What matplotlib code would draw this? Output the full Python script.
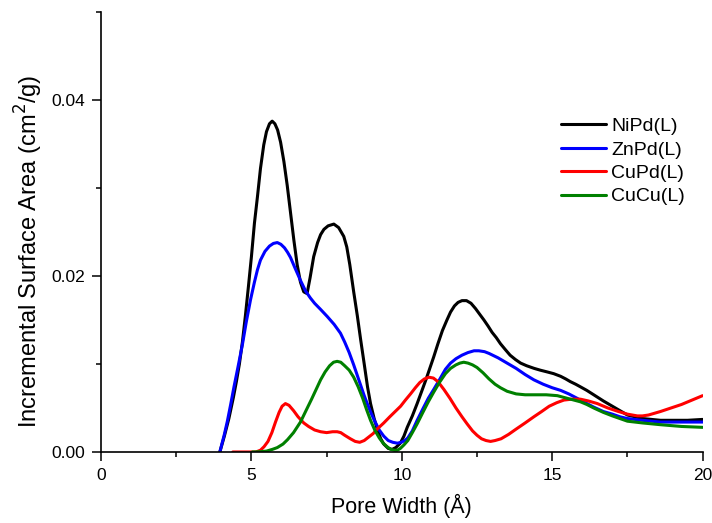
import matplotlib
matplotlib.use("Agg")
import matplotlib.pyplot as plt
from matplotlib.ticker import MultipleLocator

plt.rcParams['font.family'] = ['Liberation Sans', 'DejaVu Sans']

# NiPd(L)
nipd_x = [3.95, 4.1, 4.25, 4.4, 4.5, 4.6, 4.7, 4.8, 4.9, 5.0, 5.1, 5.2, 5.3, 5.41, 5.5, 5.6,
          5.69, 5.78, 5.87, 5.97, 6.08, 6.19, 6.3, 6.41, 6.52, 6.63, 6.74, 6.85, 6.95, 7.07, 7.2,
          7.3, 7.41, 7.55, 7.74, 7.9, 8.07, 8.17, 8.27, 8.4, 8.52, 8.63, 8.75, 8.86, 8.96, 9.08,
          9.2, 9.3, 9.4, 9.55, 9.68, 9.8, 9.95, 10.07, 10.18, 10.35, 10.51, 10.65, 10.8, 10.93,
          11.06, 11.2, 11.35, 11.5, 11.62, 11.75, 11.87, 12.0, 12.15, 12.3, 12.45, 12.6, 12.73,
          12.87, 13.0, 13.14, 13.28, 13.45, 13.6, 13.78, 13.95, 14.15, 14.4, 14.6, 14.83, 15.05,
          15.28, 15.45, 15.6, 15.78, 15.94, 16.15, 16.38, 16.7, 17.0, 17.25, 17.5, 17.75, 18.0,
          18.3, 18.6, 19.0, 19.5, 20.0]
nipd_y = [0, 0.0018, 0.0038, 0.0062, 0.0080, 0.0100, 0.0125, 0.0155, 0.0188, 0.0222, 0.026,
          0.029, 0.0322, 0.0349, 0.0364, 0.0373, 0.0376, 0.0373, 0.0366, 0.0352, 0.0330, 0.0303,
          0.0272, 0.0241, 0.0213, 0.0193, 0.0182, 0.0180, 0.0198, 0.0222, 0.0238, 0.0247, 0.0253,
          0.0257, 0.0259, 0.0255, 0.0245, 0.0233, 0.0213, 0.0182, 0.0155, 0.0128, 0.0100, 0.0074,
          0.0055, 0.0038, 0.0024, 0.0015, 0.0009, 0.0004, 0.0003, 0.0005, 0.0010, 0.0018, 0.0028,
          0.0041, 0.0055, 0.0068, 0.0082, 0.0095, 0.0108, 0.0123, 0.0138, 0.0150, 0.0159, 0.0166,
          0.0170, 0.0172, 0.0172, 0.0169, 0.0163, 0.0156, 0.0150, 0.0143, 0.0136, 0.0130, 0.0123,
          0.0116, 0.0110, 0.0105, 0.0101, 0.0098, 0.0095, 0.0093, 0.0091, 0.0089, 0.0086, 0.0083,
          0.0080, 0.0077, 0.0074, 0.0070, 0.0065, 0.0058, 0.0052, 0.0047, 0.0042, 0.0040, 0.0038,
          0.0037, 0.0036, 0.0036, 0.0036, 0.0037]

# ZnPd(L)
znpd_x = [3.95, 4.1, 4.2, 4.31, 4.42, 4.55, 4.7, 4.83, 4.97, 5.1, 5.2, 5.3, 5.45, 5.6, 5.73,
          5.86, 5.98, 6.1, 6.2, 6.3, 6.45, 6.63, 6.8, 6.96, 7.1, 7.3, 7.52, 7.75, 7.96, 8.1, 8.25,
          8.4, 8.52, 8.63, 8.75, 8.85, 8.98, 9.1, 9.25, 9.4, 9.55, 9.7, 9.85, 9.98, 10.1, 10.2,
          10.35, 10.51, 10.7, 10.88, 11.06, 11.25, 11.45, 11.62, 11.8, 12.0, 12.2, 12.4, 12.56,
          12.75, 12.9, 13.2, 13.5, 13.8, 14.1, 14.39, 14.7, 15.0, 15.28, 15.55, 15.83, 16.1,
          16.38, 16.7, 17.0, 17.25, 17.5, 18.0, 18.6, 19.3, 20.0]
znpd_y = [0, 0.0020, 0.0035, 0.0054, 0.0074, 0.0096, 0.0122, 0.0148, 0.0173, 0.0193, 0.0207,
          0.0218, 0.0228, 0.0234, 0.0237, 0.0238, 0.0236, 0.0232, 0.0227, 0.0221, 0.0209, 0.0195,
          0.0183, 0.0175, 0.0169, 0.0162, 0.0154, 0.0145, 0.0135, 0.0125, 0.0113, 0.0099, 0.0087,
          0.0076, 0.0064, 0.0055, 0.0044, 0.0035, 0.0025, 0.0018, 0.0013, 0.0011, 0.0010, 0.0011,
          0.0013, 0.0016, 0.0024, 0.0036, 0.0049, 0.0061, 0.0071, 0.0082, 0.0094, 0.0101, 0.0106,
          0.0110, 0.0113, 0.0115, 0.0115, 0.0114, 0.0112, 0.0107, 0.0101, 0.0095, 0.0088, 0.0082,
          0.0077, 0.0073, 0.0070, 0.0066, 0.0061, 0.0056, 0.0051, 0.0046, 0.0043, 0.0040, 0.0038,
          0.0036, 0.0034, 0.0034, 0.0034]

# CuPd(L)
cupd_x = [4.38, 5.15, 5.3, 5.42, 5.55, 5.68, 5.8, 5.92, 6.02, 6.13, 6.25, 6.4, 6.55, 6.74, 6.9,
          7.1, 7.3, 7.5, 7.7, 7.85, 7.97, 8.1, 8.29, 8.45, 8.6, 8.75, 8.9, 9.05, 9.18, 9.4, 9.6,
          9.78, 9.96, 10.12, 10.29, 10.45, 10.6, 10.75, 10.9, 11.05, 11.2, 11.4, 11.6, 11.8, 12.0,
          12.17, 12.35, 12.5, 12.65, 12.8, 12.95, 13.1, 13.3, 13.55, 13.8, 14.1, 14.39, 14.65,
          14.9, 15.15, 15.39, 15.65, 15.94, 16.2, 16.5, 16.85, 17.2, 17.5, 17.83, 18.0, 18.2,
          18.4, 18.6, 18.95, 19.3, 19.65, 20.0]
cupd_y = [0, 0, 0.0002, 0.0006, 0.0012, 0.0022, 0.0034, 0.0045, 0.0052, 0.0055, 0.0053, 0.0047,
          0.0040, 0.0033, 0.0029, 0.0025, 0.0023, 0.0022, 0.0023, 0.0023, 0.0022, 0.0019, 0.0015,
          0.0012, 0.0011, 0.0013, 0.0017, 0.0021, 0.0026, 0.0033, 0.0040, 0.0046, 0.0052, 0.0059,
          0.0066, 0.0073, 0.0079, 0.0083, 0.0085, 0.0084, 0.0080, 0.0071, 0.0061, 0.0050, 0.0040,
          0.0032, 0.0024, 0.0019, 0.0015, 0.0013, 0.0012, 0.0013, 0.0015, 0.0020, 0.0026, 0.0033,
          0.0040, 0.0046, 0.0052, 0.0056, 0.0059, 0.0060, 0.0060, 0.0058, 0.0055, 0.0050, 0.0046,
          0.0043, 0.0041, 0.0041, 0.0042, 0.0044, 0.0046, 0.0050, 0.0054, 0.0059, 0.0064]

# CuCu(L)
cucu_x = [5.03, 5.3, 5.5, 5.7, 5.86, 6.05, 6.2, 6.4, 6.63, 6.8, 7.0, 7.15, 7.3, 7.45, 7.6, 7.73,
          7.85, 7.97, 8.1, 8.25, 8.4, 8.55, 8.7, 8.83, 8.96, 9.1, 9.25, 9.38, 9.51, 9.63, 9.75,
          9.85, 9.95, 10.07, 10.2, 10.35, 10.51, 10.7, 10.88, 11.06, 11.25, 11.45, 11.62, 11.8,
          11.93, 12.06, 12.2, 12.35, 12.5, 12.7, 12.9, 13.1, 13.28, 13.5, 13.8, 14.1, 14.39, 14.8,
          15.17, 15.5, 15.94, 16.15, 16.38, 16.7, 17.0, 17.25, 17.5, 18.0, 18.6, 19.3, 20.0]
cucu_y = [0, 0.00003, 0.0001, 0.0003, 0.0005, 0.0009, 0.0014, 0.0022, 0.0034, 0.0046, 0.0060,
          0.0071, 0.0082, 0.0091, 0.0098, 0.0102, 0.0103, 0.0102, 0.0098, 0.0093, 0.0085, 0.0074,
          0.0061, 0.0048, 0.0036, 0.0025, 0.0016, 0.0010, 0.0006, 0.0003, 0.0002, 0.0002, 0.0004,
          0.0008, 0.0013, 0.0022, 0.0032, 0.0045, 0.0057, 0.0068, 0.0079, 0.0089, 0.0095, 0.0099,
          0.0101, 0.0102, 0.0101, 0.0099, 0.0096, 0.0090, 0.0083, 0.0077, 0.0073, 0.0069, 0.0066,
          0.0065, 0.0065, 0.0065, 0.0064, 0.0061, 0.0057, 0.0054, 0.0050, 0.0045, 0.0041, 0.0038,
          0.0035, 0.0033, 0.0031, 0.0029, 0.0028]

series = [
    ("NiPd(L)", nipd_x, nipd_y, "black"),
    ("ZnPd(L)", znpd_x, znpd_y, "#0000ff"),
    ("CuPd(L)", cupd_x, cupd_y, "#ff0000"),
    ("CuCu(L)", cucu_x, cucu_y, "#008000"),
]

fig = plt.figure(figsize=(7.12, 5.23), dpi=100)
ax = fig.add_axes([0.1419, 0.1358, 0.8449, 0.8412])

for label, xs, ys, color in series:
    ax.plot(xs, ys, color=color, lw=2.2, label=label,
            solid_joinstyle='round', solid_capstyle='round')

ax.set_xlim(0, 20)
ax.set_ylim(0, 0.05)
ax.xaxis.set_minor_locator(MultipleLocator(2.5))
ax.yaxis.set_minor_locator(MultipleLocator(0.01))
ax.set_xticks([0, 5, 10, 15, 20])
ax.set_xticklabels(["0", "5", "10", "15", "20"])
ax.set_yticks([0, 0.02, 0.04])
ax.set_yticklabels(["0.00", "0.02", "0.04"])

for side in ("top", "right"):
    ax.spines[side].set_visible(False)
for side in ("left", "bottom"):
    ax.spines[side].set_linewidth(1.2)

ax.tick_params(which="major", direction="out", length=6.5, width=1.1, labelsize=12.5, pad=5)
ax.tick_params(which="minor", direction="out", length=3.3, width=1.1)

ax.set_xlabel("Pore Width (Å)", fontsize=15.5, labelpad=8)
ax.set_ylabel("Incremental Surface Area (cm$^2$/g)", fontsize=17)
ax.yaxis.set_label_coords(-0.093, 0.457)

ax.legend(loc="upper right", bbox_to_anchor=(1.0, 0.80), frameon=False, fontsize=14,
          handlelength=2.3, handletextpad=0.3, labelspacing=0.3)

fig.savefig("out.png", dpi=100)
